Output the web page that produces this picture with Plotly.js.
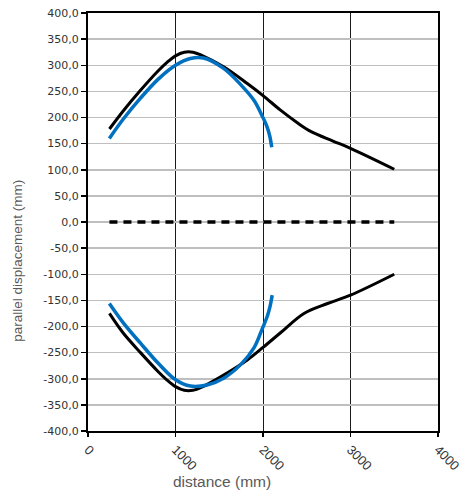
<!DOCTYPE html>
<html>
<head>
<meta charset="utf-8">
<script src="https://cdn.plot.ly/plotly-3.0.1.min.js"></script>
<style>html,body{margin:0;padding:0;background:#fff;}#chart{width:463px;height:494px;}</style>
</head>
<body>
<div id="chart"></div>
<script>
// Upper black curve
const blackUpperX = [245, 400, 600, 800, 900, 1000, 1100, 1200, 1300, 1550, 1820, 2000, 2200, 2400, 2550, 2800, 3000, 3500];
const blackUpperY = [178, 212, 252, 289, 305, 318, 325, 325, 319, 297, 265, 242, 214, 189, 173, 155, 141, 101];
// Upper blue curve
const blueUpperX = [244, 408, 600, 800, 1000, 1170, 1320, 1550, 1750, 1900, 1990, 2040, 2075, 2100];
const blueUpperY = [160, 198, 237, 273, 300, 313, 314, 294, 262, 232, 203, 185, 166, 143];
// Lower black curve
const blackLowerX = [245, 400, 600, 800, 900, 1000, 1100, 1200, 1300, 1550, 1820, 2000, 2200, 2468, 2737, 3000, 3500];
const blackLowerY = [-175, -212, -250, -286, -302, -315, -322, -322, -316, -293, -264, -240, -212, -175, -156, -140, -100];
// Lower blue curve
const blueLowerX = [244, 408, 600, 800, 1000, 1170, 1360, 1550, 1750, 1900, 1990, 2050, 2080, 2105];
const blueLowerY = [-156, -194, -232, -270, -302, -314, -312, -299, -272, -240, -205, -180, -162, -140];
// Centre dashed line
const centreX = [245, 3500];
const centreY = [0, 0];

const xTickVals = [0, 1000, 2000, 3000, 4000];
const xTickText = ['0', '1000', '2000', '3000', '4000'];
const yTickVals = [400, 350, 300, 250, 200, 150, 100, 50, 0, -50, -100, -150, -200, -250, -300, -350, -400];
const yTickText = ['400,0', '350,0', '300,0', '250,0', '200,0', '150,0', '100,0', '50,0', '0,0', '-50,0', '-100,0', '-150,0', '-200,0', '-250,0', '-300,0', '-350,0', '-400,0'];

const BLUE = '#0070C0';
const traces = [
  {x: blackUpperX, y: blackUpperY, mode: 'lines', line: {color: '#000', width: 3, shape: 'spline', smoothing: 1}, hoverinfo: 'skip'},
  {x: blackLowerX, y: blackLowerY, mode: 'lines', line: {color: '#000', width: 3, shape: 'spline', smoothing: 1}, hoverinfo: 'skip'},
  {x: blueUpperX, y: blueUpperY, mode: 'lines', line: {color: BLUE, width: 3.5, shape: 'spline', smoothing: 1}, hoverinfo: 'skip'},
  {x: blueLowerX, y: blueLowerY, mode: 'lines', line: {color: BLUE, width: 3.5, shape: 'spline', smoothing: 1}, hoverinfo: 'skip'},
  {x: centreX, y: centreY, mode: 'lines', line: {color: '#000', width: 3.5, dash: '8px,6px'}, hoverinfo: 'skip'}
];

const layout = {
  width: 463, height: 494,
  margin: {l: 88, r: 25, t: 13, b: 63},
  paper_bgcolor: '#fff', plot_bgcolor: '#fff',
  showlegend: false,
  font: {family: 'Liberation Sans, Arial, sans-serif', color: '#404040', size: 11},
  xaxis: {
    range: [0, 4000], tickvals: xTickVals, ticktext: xTickText, tickangle: 45,
    showgrid: true, gridcolor: '#1a1a1a', gridwidth: 1,
    showline: true, linecolor: '#000', linewidth: 2, mirror: true,
    ticks: 'outside', ticklen: 4, tickcolor: '#000', tickwidth: 1.5,
    tickfont: {family: 'Liberation Sans, Arial, sans-serif', size: 13, color: '#333'},
    zeroline: false, fixedrange: true
  },
  yaxis: {
    range: [-400, 400], tickvals: yTickVals, ticktext: yTickText,
    showgrid: true, gridcolor: '#bfbfbf', gridwidth: 1.5,
    showline: true, linecolor: '#000', linewidth: 2, mirror: true,
    ticks: 'outside', ticklen: 5, tickcolor: '#000', tickwidth: 1.5,
    tickfont: {family: 'DejaVu Sans, sans-serif', size: 11, color: '#333'},
    zeroline: false, fixedrange: true
  },
  annotations: [
    {text: 'distance (mm)', xref: 'paper', yref: 'paper', x: 0.383, y: -0.122, xanchor: 'center', yanchor: 'middle', showarrow: false,
     font: {family: 'Liberation Sans, Arial, sans-serif', size: 15.5, color: '#595959'}},
    {text: 'parallel displacement (mm)', xref: 'paper', yref: 'paper', x: -0.2, y: 0.407, xanchor: 'center', yanchor: 'middle', textangle: -90, showarrow: false,
     font: {family: 'Liberation Sans, Arial, sans-serif', size: 13.5, color: '#595959'}}
  ]
};

Plotly.newPlot('chart', traces, layout, {displayModeBar: false, staticPlot: true});
</script>
</body>
</html>
